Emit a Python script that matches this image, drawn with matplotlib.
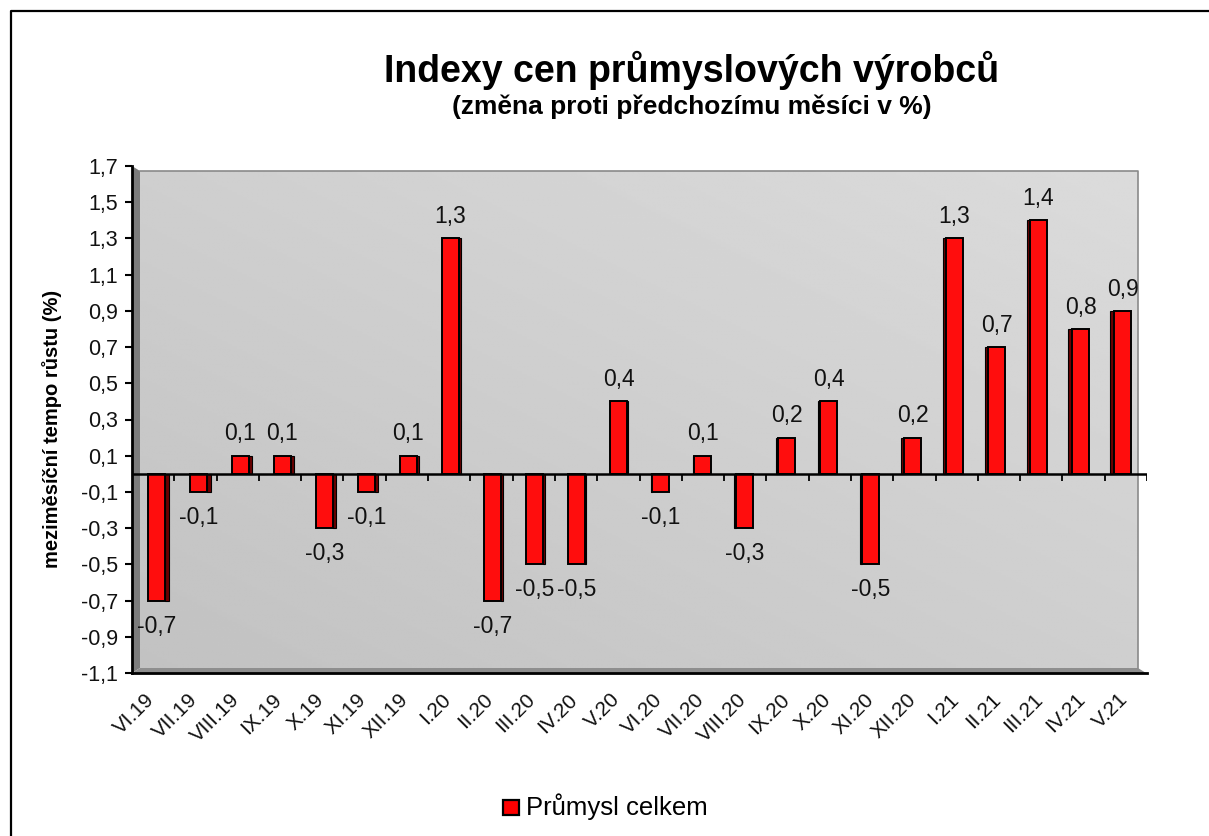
import matplotlib.pyplot as plt
from matplotlib.patches import Polygon, Rectangle
import numpy as np

plt.rcParams['font.family'] = ['Liberation Sans', 'DejaVu Sans']

months = ['VI.19', 'VII.19', 'VIII.19', 'IX.19', 'X.19', 'XI.19', 'XII.19',
          'I.20', 'II.20', 'III.20', 'IV.20', 'V.20', 'VI.20', 'VII.20',
          'VIII.20', 'IX.20', 'X.20', 'XI.20', 'XII.20', 'I.21', 'II.21',
          'III.21', 'IV.21', 'V.21']
values = [-0.7, -0.1, 0.1, 0.1, -0.3, -0.1, 0.1, 1.3, -0.7, -0.5, -0.5, 0.4,
          -0.1, 0.1, -0.3, 0.2, 0.4, -0.5, 0.2, 1.3, 0.7, 1.4, 0.8, 0.9]
yticks = np.round(np.arange(-1.1, 1.71, 0.2), 1)

TITLE = 'Indexy cen průmyslových výrobců'
SUBTITLE = '(změna proti předchozímu měsíci v %)'
YLABEL = 'meziměsíční tempo růstu (%)'
SERIES = 'Průmysl celkem'

W, H = 1209, 836
fig = plt.figure(figsize=(W / 100, H / 100), dpi=100)

# background layer in pixel coords: border, 3D walls
bg = fig.add_axes([0, 0, 1, 1], zorder=0)
bg.set_xlim(0, W)
bg.set_ylim(H, 0)
bg.axis('off')
bg.plot([11, 11, W], [H, 11, 11], color='black', lw=1.6)

xs = np.linspace(0, 1, 200)
ys = np.linspace(0, 1, 200)
t = (xs[None, :] + (1 - ys[:, None])) / 2
bg.imshow(0.76 + 0.10 * t, cmap='gray', vmin=0, vmax=1,
          extent=[140, 1138, 668, 171], aspect='auto', origin='upper')
bg.add_patch(Polygon([(132, 166), (140, 171), (140, 668), (132, 673)],
                     closed=True, fc='#7c7c7c', ec='none'))
bg.add_patch(Polygon([(132, 673), (140, 668), (1138, 668), (1146, 673)],
                     closed=True, fc='#8e8e8e', ec='none'))
bg.plot([140, 1138, 1138], [171, 171, 668], color='#8a8a8a', lw=1.2)

# main chart
ax = fig.add_axes([132 / W, (H - 673) / H, (1147 - 132) / W, (673 - 166) / H],
                  zorder=1)
ax.patch.set_alpha(0)
ax.set_xlim(-0.5, len(months) - 0.5)
ax.set_ylim(-1.1, 1.7)

px = 1 / 42.29  # one pixel in category units
n = len(months)
mid = (n - 1) / 2
for i, v in enumerate(values):
    rel = (mid - i) / mid
    xc = i + 3.3 * rel * px
    bw = 17 * px
    sw = (1 + 3 * abs(rel)) * px
    if rel > 0:
        xs_ = xc + bw / 2 + sw / 2
    else:
        xs_ = xc - bw / 2 - sw / 2
    ax.bar(xs_, v, width=sw, color='#6a0000', edgecolor='black', lw=0.8, zorder=3)
    ax.bar(xc, v, width=bw, color='#ff0d0d', edgecolor='black', lw=1.4, zorder=4)
    lab = f'{v:.1f}'.replace('.', ',')
    off = 11 if v > 0 else -23
    ax.annotate(lab, xy=(xc, v), xytext=(0, off), textcoords='offset points',
                ha='center', va='baseline', fontsize=16.5, color='#111111',
                zorder=6)

ax.axhline(0, color='black', lw=1.8, zorder=5)
ax.vlines(np.arange(0.5, n + 0.5, 1), 0, -0.04, color='black', lw=1.3, zorder=5)

for s in ['top', 'right']:
    ax.spines[s].set_visible(False)
ax.spines['left'].set_linewidth(2)
ax.spines['bottom'].set_linewidth(2)

ax.set_yticks(yticks)
ax.set_yticklabels([f'{y:.1f}'.replace('.', ',') for y in yticks], fontsize=15.5,
                   color='#111111')
ax.tick_params(axis='y', length=5, width=1.5, pad=5, direction='out')
ax.set_xticks(np.arange(n))
ax.set_xticklabels([])
ax.tick_params(axis='x', length=0)
for i, m in enumerate(months):
    ax.annotate(m, xy=(i, -1.1), xytext=(-1, -17), textcoords='offset points',
                rotation=45, ha='right', va='center', rotation_mode='anchor',
                fontsize=15, color='#111111', annotation_clip=False)

fig.text(52 / W, 1 - 429 / H, YLABEL, rotation=90, ha='center', va='center',
         fontsize=14.5, fontweight='bold')

fig.text(692 / W, 1 - 82 / H, TITLE, ha='center', va='baseline',
         fontsize=27, fontweight='bold')
fig.text(692 / W, 1 - 114 / H, SUBTITLE, ha='center', va='baseline',
         fontsize=19, fontweight='bold')

# legend
bg.add_patch(Rectangle((503, 800), 16, 15, fc='#ff0000', ec='black', lw=1.6))
bg.text(526, 807, SERIES, ha='left', va='center', fontsize=18.5)

fig.savefig('out.png', dpi=100)
